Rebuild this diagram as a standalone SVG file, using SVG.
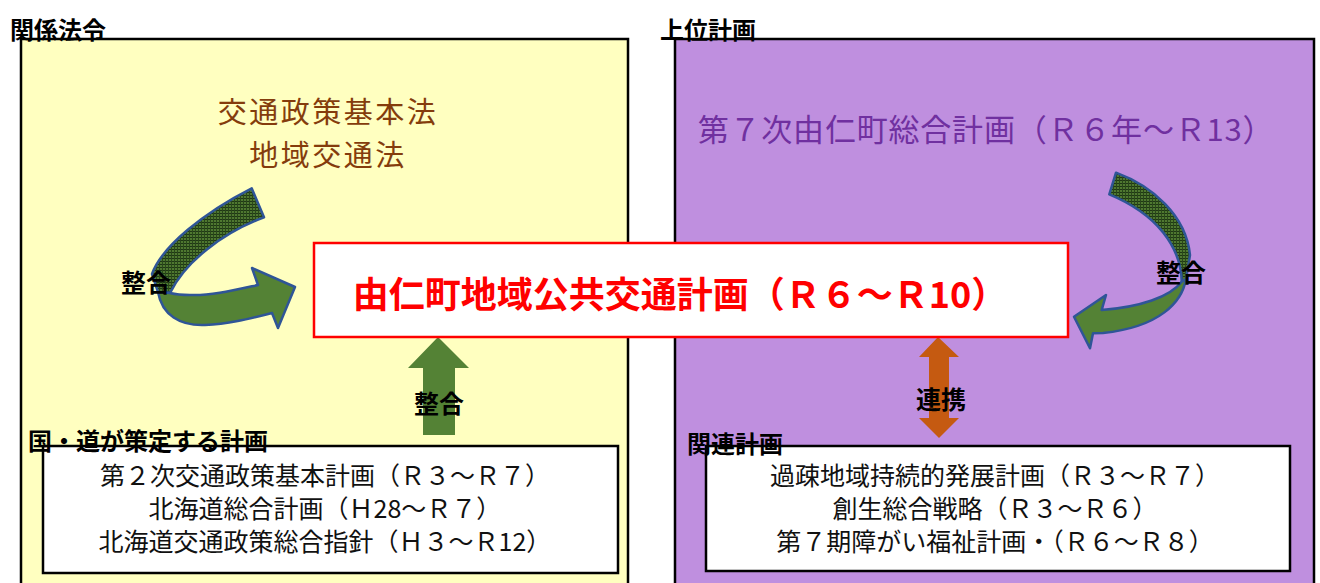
<svg xmlns="http://www.w3.org/2000/svg" width="1320" height="583" viewBox="0 0 1320 583">
<style>
text{font-family:"Noto Sans CJK JP","Noto Sans",sans-serif}
.lbl{font-size:24px;font-weight:bold;fill:#000}
.panel{stroke:#000;stroke-width:2.5}
.box{fill:#fff;stroke:#000;stroke-width:2.5}
.line{font-size:25px;fill:#111;text-anchor:middle}
.tag{font-size:25px;font-weight:bold;fill:#000;text-anchor:middle}
.curve{stroke:#2F5597;stroke-width:2.5;stroke-linejoin:round}
.law{font-size:29px;fill:#843C0C;text-anchor:middle;letter-spacing:2.5px}
</style>
<defs>
<pattern id="hatch" width="3" height="3" patternUnits="userSpaceOnUse">
<rect width="3" height="3" fill="#4F7830"/>
<rect width="3" height="1" fill="#1F3814"/>
<rect width="1" height="3" fill="#2A471B"/>
</pattern>
</defs>
<rect width="1320" height="583" fill="#fff"/>
<g id="law-panel">
<rect class="panel" x="21" y="39" width="607" height="560" fill="#FFFFC0"/>
<text class="lbl" x="10" y="39">関係法令</text>
<text class="law" x="328" y="123">交通政策基本法</text>
<text class="law" x="328" y="166">地域交通法</text>
</g>
<g id="upper-panel">
<rect class="panel" x="675" y="39" width="639" height="560" fill="#BF8FDF"/>
<text class="lbl" x="660" y="39">上位計画</text>
<text x="986" y="141" font-size="31" fill="#7030A0" text-anchor="middle" letter-spacing="0.8">第７次由仁町総合計画（Ｒ６年～Ｒ13）</text>
</g>
<g id="national-plans">
<rect class="box" x="43" y="446" width="575" height="127"/>
<text class="lbl" x="28" y="450">国・道が策定する計画</text>
<text class="line" x="325" y="485">第２次交通政策基本計画（Ｒ３～Ｒ７）</text>
<text class="line" x="325" y="518">北海道総合計画（Ｈ28～Ｒ７）</text>
<text class="line" x="325" y="551">北海道交通政策総合指針（Ｈ３～Ｒ12）</text>
</g>
<g id="related-plans">
<rect class="box" x="706" y="446" width="584" height="125"/>
<text class="lbl" x="687" y="453">関連計画</text>
<text class="line" x="995" y="485">過疎地域持続的発展計画（Ｒ３～Ｒ７）</text>
<text class="line" x="995" y="518">創生総合戦略（Ｒ３～Ｒ６）</text>
<text class="line" x="995" y="551">第７期障がい福祉計画・（Ｒ６～Ｒ８）</text>
</g>
<g id="connectors">
<path class="curve" fill="url(#hatch)" d="M251.7,188.3 C205,212 162,246 152,274 L158,292 L170,293 C185,262 222,233 264,217.3 Z"/>
<path class="curve" fill="#548235" d="M158,292 C162,315 180,326 205,325 C230,324 252,318 272,313 L278,328 L295,287 L252,268 L258,285 C235,290 210,296 190,295 C180,295 174,294 170,293 Z"/>
<path class="curve" fill="url(#hatch)" d="M1116,172.7 C1152,186 1186,215 1190,255 L1186,279 L1181.7,281.7 C1181,247 1157,214 1109.3,194.3 Z"/>
<path class="curve" fill="#548235" d="M1186,279 C1182,302 1160,327 1103,333 L1093,333.3 L1090,348.3 L1074,316.7 L1106,295 L1101.7,310 C1140,307 1170,297 1181.7,281.7 Z"/>
<polygon fill="#548235" points="438,337 469,368 455,368 455,435 423,435 423,368 408,368"/>
<polygon fill="#C55A11" points="938,337 959,357 949,357 949,418 959,418 939,438 919,418 929,418 929,357 919,357"/>
<text class="tag" x="146" y="292">整合</text>
<text class="tag" x="1181" y="282">整合</text>
<text class="tag" x="439" y="413">整合</text>
<text class="tag" x="941" y="409">連携</text>
</g>
<g id="main-plan">
<rect x="314" y="243" width="754" height="94" fill="#fff" stroke="#FF0000" stroke-width="2.5"/>
<text x="680" y="308" font-size="36" font-weight="bold" fill="#FF0000" text-anchor="middle">由仁町地域公共交通計画（Ｒ６～Ｒ10）</text>
</g>
</svg>
